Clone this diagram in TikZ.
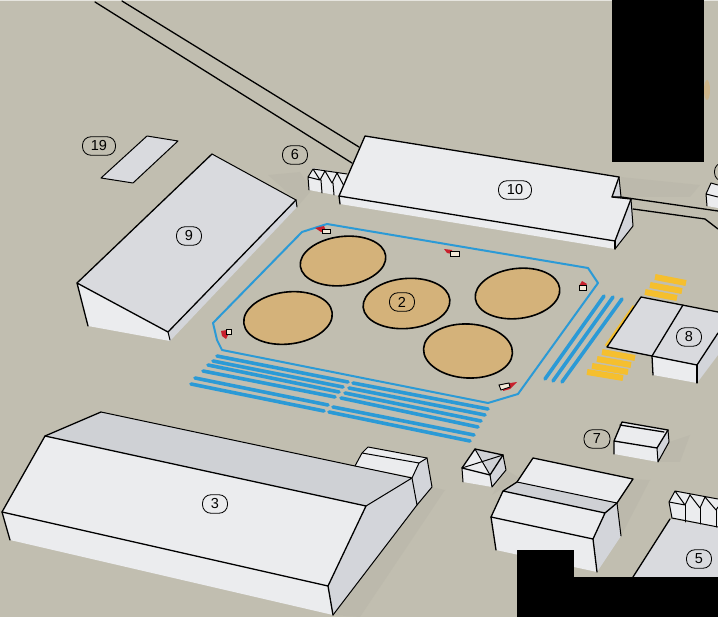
\documentclass[tikz,border=0pt]{standalone}
\usepackage{fontspec}
\setmainfont{Liberation Sans}
\definecolor{ground}{HTML}{C1BEB0}
\definecolor{shade}{HTML}{B2B0A3}
\definecolor{wallc}{HTML}{EBECEE}
\definecolor{roofc}{HTML}{D9DADE}
\definecolor{slopec}{HTML}{CFD1D5}
\definecolor{sidec}{HTML}{D3D5DA}
\definecolor{tankc}{HTML}{D4B27A}
\definecolor{pipec}{HTML}{2B9AD6}
\definecolor{stripec}{HTML}{F5BF2E}
\definecolor{binc}{HTML}{C8202C}
\tikzset{
  edge/.style={draw=black,line width=1.3pt,line join=round,line cap=round},
  thin edge/.style={draw=black,line width=1pt,line join=round,line cap=round},
  wall/.style={fill=wallc},
  roof/.style={fill=roofc},
  slope/.style={fill=slopec},
  side/.style={fill=sidec},
  shadow/.style={fill=shade,opacity=0.3},
  tank/.style={fill=tankc,draw=black,line width=1.6pt},
  pipe/.style={draw=pipec,line width=3.6pt,line cap=round},
  fence/.style={draw=pipec,line width=2pt,line join=round},
  stripe/.style={draw=stripec,line width=6pt},
  bin/.style={fill=white!70!tankc,draw=black,line width=0.9pt},
  binpart/.style={fill=binc},
  lbl/.style={draw=black,fill=none,line width=0.8pt,rounded corners=8.5pt,font=\fontsize{14.5}{15}\selectfont,inner sep=0pt,minimum height=18.5pt,minimum width=25pt},
  lblw/.style={lbl,minimum width=33pt}}
\begin{document}
\begin{tikzpicture}[x=1pt,y=-1pt]
\useasboundingbox (0,0) rectangle (718,617);
\clip (0,0) rectangle (718,617);
\fill[ground] (0,0) rectangle (718,617);
\fill[white,opacity=0.6] (0,0) rectangle (718,1.2);
\fill[shadow] (296,200) -- (268,175) -- (300,172) -- (312,190) -- (297,207) -- cycle;
\fill[shadow] (621,177) -- (700,185) -- (690,197) -- (621,197) -- cycle;
\fill[shadow] (333,615) -- (432,487) -- (445,490) -- (360,617) -- cycle;
\fill[shadow] (597,572) -- (621,536) -- (650,480) -- (633,479) -- (617,503) -- cycle;
\fill[shadow] (669,442) -- (690,435) -- (680,462) -- (658,462) -- cycle;
\fill[shadow] (506,470) -- (520,478) -- (492,495) -- cycle;
\fill[tankc,opacity=0.7] (707,90) ellipse [x radius=3pt,y radius=10pt];
\draw[edge] (95,2) -- (352,163);
\draw[edge] (122,1) -- (359,147);
\draw[edge] (621,197) -- (718,211);
\draw[edge] (633,209) -- (705,219) -- (718,229);
% pad and hall on the left
\fill[roof] (147,136) -- (178,141) -- (133,183) -- (101,178) -- cycle;
\draw[thin edge] (178,141) -- (147,136) -- (101,178) -- (133,183) -- cycle;
\fill[wall] (77,283) -- (168,332) -- (170,341) -- (88,326) -- cycle;
\fill[side] (296,200) -- (297,207) -- (170,341) -- (168,332) -- cycle;
\fill[roof] (212,154) -- (296,200) -- (168,332) -- (77,283) -- cycle;
\draw[edge] (77,283) -- (212,154);
\draw[thin edge] (212,154) -- (296,200);
\draw[edge] (296,200) -- (168,332) -- (77,283) -- (88,326);
\draw[thin edge] (168,332) -- (170,340) (297,207) -- (296,200);
% small sheds
\fill[wall] (308,177) -- (313,168) -- (347,174) -- (340,196) -- (309,190) -- cycle;
\draw[thin edge] (309,190) -- (308,177) -- (313,169) -- (347,174) (308,177) -- (320,180) -- (325,171) -- (332,183) -- (337,173) -- (344,186) (313,169) -- (320,180) (325,171) -- (332,183) (321,180) -- (322,193) (333,183) -- (334,195);
% long hall at the top
\fill[wall] (339,196) -- (615,241) -- (615,249) -- (340,204) -- cycle;
\fill[side] (631,199) -- (633,226) -- (615,249) -- (615,241) -- cycle;
\fill[side] (619,177) -- (621,197) -- (612,197) -- cycle;
\fill[wallc] (365,136) -- (619,177) -- (612,197) -- (631,199) -- (615,241) -- (339,196) -- cycle;
\draw[edge] (339,196) -- (365,136) -- (619,177) -- (612,197) -- (631,199) -- (615,241) -- (339,196);
\draw[edge] (339,196) -- (340,204);
\draw[edge] (615,241) -- (615,249);
\draw[thin edge] (619,177) -- (621,197) -- (612,197);
\draw[thin edge] (631,199) -- (633,226) -- (615,249);
\fill[wall] (707,191) -- (711,183) -- (718,185) -- (718,208) -- (707,206) -- cycle;
\draw[thin edge] (707,206) -- (706,194) -- (711,183) -- (718,185) (706,194) -- (718,197);
% fenced yard
\draw[fence] (217,340) -- (213,323) -- (302,232) -- (327,224) -- (588,268) -- (598,283) -- (518,394) -- (488,403) -- (222,350) -- cycle;
\draw[tank,rotate around={7:(343,261)}] (343,261) ellipse [x radius=43pt,y radius=24.5pt];
\draw[tank,rotate around={5:(406.5,303.5)}] (406.5,303.5) ellipse [x radius=43.5pt,y radius=25pt];
\draw[tank,rotate around={7:(517.5,293.5)}] (517.5,293.5) ellipse [x radius=42.5pt,y radius=25pt];
\draw[tank,rotate around={-3:(468,351)}] (468,351) ellipse [x radius=44.5pt,y radius=27pt];
\draw[tank,rotate around={7:(288,318)}] (288,318) ellipse [x radius=44.5pt,y radius=26pt];
\fill[binpart] (315,228) -- (324,226) -- (326,231) -- (321,232) -- cycle;
\draw[bin] (322,229) rectangle (330,233);
\fill[binpart] (444,249) -- (452,250) -- (452,254) -- (447,253) -- cycle;
\draw[bin] (450,251) rectangle (459,256);
\fill[binpart] (582,281) -- (587,284) -- (584,288) -- (579,286) -- cycle;
\draw[bin] (579,285) rectangle (586,290);
\fill[binpart] (504,384) -- (517,382) -- (510,389) -- (503,391) -- cycle;
\draw[bin] (499,385) -- (509,383) -- (510,387) -- (501,390) -- cycle;
\fill[binpart] (221,331) -- (227,330) -- (228,335) -- (226,339) -- (222,336) -- cycle;
\draw[bin] (226,329) rectangle (231,334);
\foreach \xa/\ya/\xb/\yb in {217/356/348/382,213/361/343/387,208/365/339/392,203/371/335/397,195/378/328/405,191/384/324/411,353/383/488/409,349/388/485/415,345/393/481/421,341/398/478/427,333/407/474/435,329/412/470/441,604/296/545/379,613/297/553/381,622/299/562/382}
  \draw[pipe] (\xa,\ya) -- (\xb,\yb);
% yellow hatching and hall 8
\foreach \xa/\ya/\xb/\yb in {655/277/686/283,650/285/682/291,645/292/677/298,602/352/635/358,597/359/631/365,592/366/628/372,587/372/623/378}
  \draw[stripe] (\xa,\ya) -- (\xb,\yb);
\draw[stripec,line width=3pt] (634,306) -- (606,346);
\fill[wall] (652,356) -- (697,365) -- (697,383) -- (653,375) -- cycle;
\fill[side] (697,365) -- (718,333) -- (718,355) -- (697,383) -- cycle;
\fill[roof] (641,297) -- (718,312) -- (718,333) -- (697,365) -- (607,347) -- cycle;
\draw[edge] (718,312) -- (641,297) -- (607,347) -- (697,365) -- (718,333);
\draw[edge] (683,305) -- (652,356);
\draw[edge] (652,356) -- (653,375);
\draw[edge] (697,365) -- (697,383);
% large hall 3
\fill[wall] (2,512) -- (328,586) -- (333,615) -- (10,540) -- cycle;
\fill[side] (328,586) -- (366,506) -- (412,478) -- (417,505) -- (333,615) -- cycle;
\fill[wall] (355,466) -- (362,453) -- (368,447) -- (427,458) -- (413,477) -- cycle;
\fill[side] (419,463) -- (427,458) -- (432,487) -- (417,505) -- (412,478) -- cycle;
\fill[slope] (45,436) -- (101,412) -- (355,466) -- (412,478) -- (366,506) -- cycle;
\fill[wall] (45,436) -- (366,506) -- (328,586) -- (2,512) -- cycle;
\draw[edge] (101,412) -- (45,436) -- (2,512) -- (10,540);
\draw[edge] (2,512) -- (328,586) -- (366,506) -- (45,436);
\draw[thin edge] (101,412) -- (355,466) -- (412,478) -- (366,506);
\draw[edge] (328,586) -- (333,615);
\draw[thin edge] (333,615) -- (417,505);
\draw[thin edge] (355,466) -- (362,453) -- (368,447) -- (427,458) -- (432,487) -- (417,505) -- (412,478) -- (419,463) -- (362,453);
\draw[thin edge] (419,463) -- (427,458);
% hut
\fill[wall] (462,468) -- (490,475) -- (492,487) -- (463,482) -- cycle;
\fill[side] (490,475) -- (503,455) -- (506,470) -- (492,487) -- cycle;
\fill[wallc] (475,449) -- (503,455) -- (490,475) -- (462,468) -- cycle;
\fill[slopec] (475,449) -- (503,455) -- (490,475) -- (483,460) -- cycle;
\draw[edge] (475,449) -- (503,455) -- (490,475) -- (462,468) -- cycle;
\draw[thin edge] (475,449) -- (490,475) (462,468) -- (503,455);
\draw[thin edge] (462,468) -- (463,482) (490,475) -- (492,487) -- (506,470) -- (503,455);
% central hall
\fill[wall] (491,517) -- (593,539) -- (597,572) -- (496,550) -- cycle;
\fill[side] (593,539) -- (605,513) -- (617,503) -- (621,536) -- (597,572) -- cycle;
\fill[wallc] (533,458) -- (633,479) -- (617,503) -- (517,482) -- cycle;
\fill[slope] (517,482) -- (617,503) -- (605,513) -- (503,491) -- cycle;
\fill[wall] (503,491) -- (605,513) -- (593,539) -- (491,517) -- cycle;
\draw[edge] (503,491) -- (517,482) -- (533,458) -- (633,479) -- (617,503) -- (605,513) -- (593,539) -- (491,517) -- (503,491) -- (605,513);
\draw[thin edge] (517,482) -- (617,503);
\draw[edge] (491,517) -- (496,550);
\draw[edge] (593,539) -- (597,572);
\draw[thin edge] (617,503) -- (621,536);
% hall 7
\fill[wall] (614,441) -- (657,448) -- (658,462) -- (614,454) -- cycle;
\fill[side] (668,430) -- (669,442) -- (658,462) -- (657,448) -- cycle;
\fill[wall] (622,422) -- (668,430) -- (657,448) -- (614,441) -- cycle;
\draw[edge] (614,454) -- (614,441) -- (622,422) -- (668,430) -- (657,448) -- (614,441);
\draw[edge] (620,425) -- (664,432);
\draw[thin edge] (657,448) -- (658,462) -- (669,442) -- (668,430);
% hall 5
\fill[roof] (670,519) -- (718,527) -- (718,577) -- (633,577) -- cycle;
\draw[edge] (670,519) -- (633,577);
\fill[wall] (669,502) -- (675,491) -- (718,499) -- (718,527) -- (672,518) -- cycle;
\draw[thin edge] (672,518) -- (669,502) -- (675,491) -- (718,499) (669,502) -- (685,505) -- (690,495) -- (700,508) -- (705,497) -- (716,510) (675,491) -- (685,505) (690,495) -- (700,508) (705,497) -- (716,510) -- (718,507);
\draw[thin edge] (685,505) -- (685,522) (700,508) -- (700,524) (716,510) -- (716,527);
\draw[thin edge] (672,518) -- (718,527);
% cover blocks
\fill[black] (612,0) rectangle (704,162);
\fill[black] (517,550) rectangle (574,617);
\fill[black] (574,577) rectangle (718,617);
\node[lblw] (l19) at (99,146) {19};
\node[lbl] (l6) at (295,155) {6};
\node[lbl] (l9) at (189,236) {9};
\node[lblw] (l10) at (515,190) {10};
\node[lbl] (l2) at (402,302) {2};
\node[lbl] (l8) at (689,337) {8};
\node[lbl] (l3) at (215,504) {3};
\node[lbl,minimum width=26pt] (l7) at (597,439) {7};
\node[lbl] (l5) at (699,559) {5};
\node[lbl] (lcut) at (727,172) {\phantom{4}};
\end{tikzpicture}
\end{document}
